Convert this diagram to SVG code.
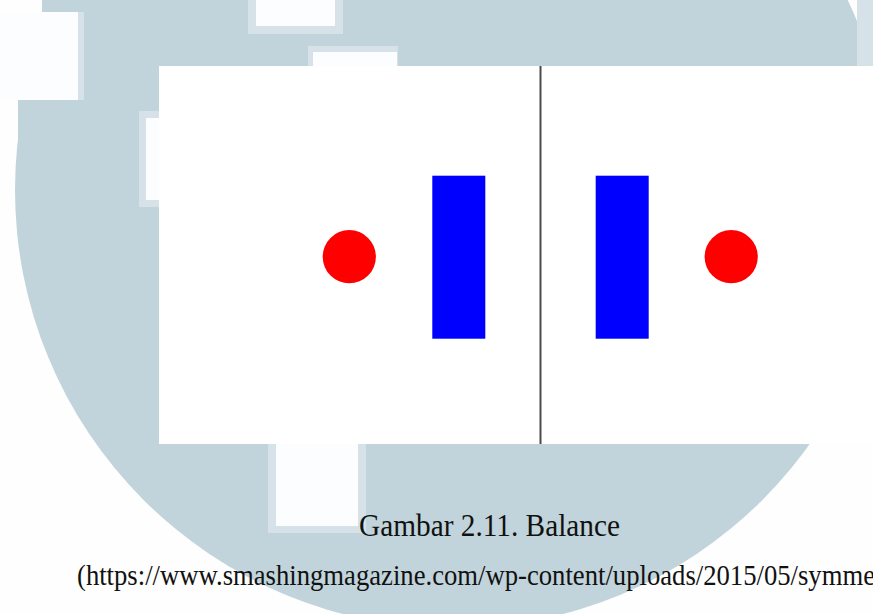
<svg xmlns="http://www.w3.org/2000/svg" width="873" height="614" viewBox="0 0 873 614">
  <style>
    .wm { fill: #c1d4db; }
    .pale { fill: #d6e2e7; }
    .blank { fill: #fcfdfe; }
    .red { fill: #ff0000; }
    .blue { fill: #0000ff; }
    .cap { font-family: "Liberation Serif", "Times New Roman", serif; fill: #111111; }
  </style>
  <rect x="0" y="0" width="873" height="614" fill="#fefefe"/>
  <g id="watermark">
    <circle class="wm" cx="453" cy="190" r="438"/>
    <rect class="wm" x="42" y="0" width="60" height="12"/>
    <rect class="wm" x="18" y="100" width="80" height="100"/>
    <rect class="pale" x="0" y="12" width="84" height="88"/>
    <rect class="blank" x="0" y="12" width="78" height="88"/>
    <rect class="pale" x="857" y="0" width="16" height="66"/>
    <rect class="pale" x="248" y="0" width="95" height="34"/>
    <rect class="blank" x="256" y="0" width="79" height="26"/>
    <rect class="pale" x="308" y="46" width="90" height="20"/>
    <rect class="blank" x="313" y="52" width="84" height="14"/>
    <rect class="pale" x="139" y="111" width="20" height="96"/>
    <rect class="blank" x="146" y="118" width="13" height="82"/>
    <rect class="pale" x="268" y="444" width="98" height="89"/>
    <rect class="blank" x="276" y="444" width="82" height="82"/>
  </g>
  <g id="figure">
    <rect x="159" y="66" width="714" height="378" fill="#ffffff"/>
  </g>
  <g id="divider">
    <line x1="540.5" y1="66" x2="540.5" y2="444" stroke="#4a4a4a" stroke-width="2"/>
  </g>
  <g id="left-circle">
    <circle class="red" cx="349.3" cy="256.7" r="26.6"/>
  </g>
  <g id="left-bar">
    <rect class="blue" x="432.3" y="175.7" width="53" height="163"/>
  </g>
  <g id="right-bar">
    <rect class="blue" x="595.7" y="175.7" width="53" height="163"/>
  </g>
  <g id="right-circle">
    <circle class="red" cx="731.2" cy="256.7" r="26.6"/>
  </g>
  <g id="caption">
    <text class="cap" x="359" y="536" font-size="31" textLength="261" lengthAdjust="spacingAndGlyphs">Gambar 2.11. Balance</text>
    <text class="cap" x="77" y="585" font-size="29" textLength="798" lengthAdjust="spacingAndGlyphs">(https://www.smashingmagazine.com/wp-content/uploads/2015/05/symme</text>
  </g>
</svg>
